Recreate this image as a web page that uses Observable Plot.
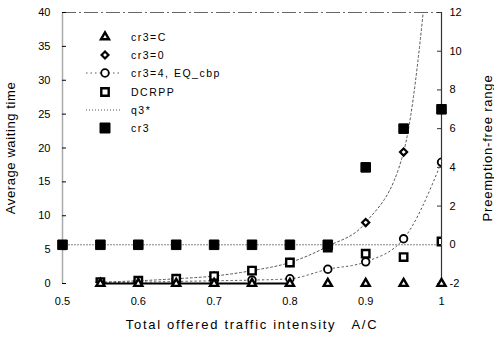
<!DOCTYPE html>
<html><head><meta charset="utf-8">
<script src="https://cdn.jsdelivr.net/npm/d3@7"></script>
<script src="https://cdn.jsdelivr.net/npm/@observablehq/plot@0.6"></script>
<style>
body{margin:0;background:#fff;}
#wrap{position:relative;width:494px;height:339px;font-family:"Liberation Sans",Arial,sans-serif;}
#legend{position:absolute;left:0;top:0;pointer-events:none;}
</style></head><body><div id="wrap"></div>
<script>
// ---- data ----
const intensity = [0.5, 0.55, 0.6, 0.65, 0.7, 0.75, 0.8, 0.85, 0.9, 0.95, 1.0];
// left axis: Average waiting time
const cr3C    = [null, 0, 0, 0, 0, 0, 0, 0, 0, 0, 0];
const cr3Zero = [null, 0.2, 0.4, 0.7, 1.1, 1.9, 3.1, 5.5, 9.0, 19.4, 70];
const eqCbp   = [null, 0.1, 0.2, 0.3, 0.4, 0.5, 0.7, 2.1, 3.2, 6.6, 17.9];
const dcrpp   = [null, 0.2, 0.4, 0.7, 1.1, 1.9, 3.1, 5.3, 4.4, 3.9, 6.2];
// right axis: Preemption-free range
const cr3     = [0, 0, 0, 0, 0, 0, 0, 0, 4, 6, 7];
const q3Star  = [0, 0, 0, 0, 0, 0, 0, 0, 0, 0, 0];

const xTicks = [0.5, 0.6, 0.7, 0.8, 0.9, 1];
const leftTicks = [0, 5, 10, 15, 20, 25, 30, 35, 40];
const rightTicks = [-2, 0, 2, 4, 6, 8, 10, 12];
const legendNames = ["cr3=C", "cr3=0", "cr3=4, EQ_cbp", "DCRPP", "q3*", "cr3"];
const yTitleLeft = "Average waiting time";
const yTitleRight = "Preemption-free range";
const xTitle = "Total offered traffic intensity   A/C";

const leftDomain = [0, 40];
const rightDomain = [-2, 12];
const toLeft = r => (r - rightDomain[0]) / (rightDomain[1] - rightDomain[0]) * (leftDomain[1] - leftDomain[0]) + leftDomain[0];
const toRight = l => (l - leftDomain[0]) / (leftDomain[1] - leftDomain[0]) * (rightDomain[1] - rightDomain[0]) + rightDomain[0];

const rows = intensity.map((x, i) => ({
  x, cr3C: cr3C[i], cr3Zero: cr3Zero[i], eqCbp: eqCbp[i], dcrpp: dcrpp[i],
  cr3: toLeft(cr3[i]), q3: toLeft(q3Star[i])
}));
const def = k => rows.filter(d => d[k] != null);
const titleStyle = {fontSize: 13, textAnchor: "middle"};

const chart = Plot.plot({
  width: 494, height: 339,
  marginLeft: 62, marginRight: 53, marginTop: 12, marginBottom: 56,
  style: {fontFamily: '"Liberation Sans", Arial, sans-serif', fontSize: "11px", color: "#000", background: "#fff"},
  x: {domain: [0.5, 1]},
  y: {domain: leftDomain},
  marks: [
    Plot.ruleY([leftDomain[1]], {stroke: "#666", strokeDasharray: "14,3,2,3"}),
    Plot.ruleX([xTicks[0]], {stroke: "#aaa", strokeWidth: 1.5}),
    Plot.ruleX([xTicks[xTicks.length - 1]], {stroke: "#333", strokeWidth: 1.2}),
    Plot.axisX({ticks: xTicks, tickSize: 0, tickPadding: 14, tickFormat: d => String(d), label: null}),
    // labels
    Plot.axisY({anchor: "left", ticks: leftTicks, tickSize: 0, tickPadding: 12, label: null}),
    Plot.axisY({anchor: "right", ticks: rightTicks.map(toLeft), tickSize: 0, tickPadding: 8,
      tickFormat: d => String(Math.round(toRight(d))), label: null}),
    // inward ticks
    Plot.axisY({anchor: "left", ticks: leftTicks, tickSize: 4, dx: 4, tickFormat: () => "", label: null}),
    Plot.axisY({anchor: "right", ticks: rightTicks.map(toLeft), tickSize: 5, dx: -5, tickFormat: () => "", label: null, stroke: "#333"}),
    Plot.text([yTitleLeft], {frameAnchor: "left", rotate: -90, dx: -52, ...titleStyle}),
    Plot.text([yTitleRight], {frameAnchor: "right", rotate: -90, dx: 46, ...titleStyle}),
    Plot.text([xTitle], {frameAnchor: "bottom", dy: 45, ...titleStyle}),
    // lines
    Plot.line(rows, {x: "x", y: "q3", stroke: "#777", strokeWidth: 1, strokeDasharray: "1,2"}),
    Plot.line(def("cr3Zero"), {x: "x", y: "cr3Zero", stroke: "#555", strokeWidth: 1, strokeDasharray: "2,2.5", curve: "monotone-x", clip: true}),
    Plot.line(def("eqCbp"), {x: "x", y: "eqCbp", stroke: "#555", strokeWidth: 1, strokeDasharray: "1.5,3", curve: "monotone-x", clip: true}),
    Plot.line(def("cr3C").filter(d => d.x <= 0.8), {x: "x", y: "cr3C", stroke: "#000", strokeWidth: 1.8}),
    // markers
    Plot.dot(def("cr3Zero"), {x: "x", y: "cr3Zero", symbol: "diamond2", r: 3.2, stroke: "#000", strokeWidth: 2.2, fill: "#fff", clip: true}),
    Plot.dot(def("eqCbp"), {x: "x", y: "eqCbp", symbol: "circle", r: 3.8, stroke: "#000", strokeWidth: 1.8, fill: "#fff", clip: true}),
    Plot.dot(def("dcrpp"), {x: "x", y: "dcrpp", symbol: "square", r: 4.2, stroke: "#000", strokeWidth: 2.4, fill: "#fff", clip: true}),
    Plot.dot(def("cr3C"), {x: "x", y: "cr3C", symbol: "triangle", r: 3, stroke: "#000", strokeWidth: 2.4, fill: "#fff"}),
    Plot.dot(rows, {x: "x", y: "cr3", symbol: "square", r: 5.4, fill: "#000", stroke: "#000", strokeWidth: 1})
  ]
});
document.getElementById("wrap").appendChild(chart);

// widen title letter spacing to match the scanned original
const spacing = {[xTitle]: "1.7px", [yTitleLeft]: "0.6px", [yTitleRight]: "0.8px"};
d3.select(chart).selectAll("text").each(function() {
  const t = this.textContent;
  if (spacing[t]) this.setAttribute("letter-spacing", spacing[t]);
});

// ---- legend overlay ----
const lg = d3.select("#wrap").append("svg").attr("id", "legend").attr("width", 494).attr("height", 339);
const rowY = [37, 55, 73, 92, 110, 128];
const mx = 105, tx = 131;
const symbols = [
  {sym: d3.symbolTriangle, size: 28, fill: "#fff", sw: 2.4},
  {sym: d3.symbolDiamond2, size: 30, fill: "#fff", sw: 2.2},
  {sym: d3.symbolCircle, size: 45, fill: "#fff", sw: 1.8, line: "1.5,3"},
  {sym: d3.symbolSquare, size: 55, fill: "#fff", sw: 2.4},
  {sym: null, line: "1,2"},
  {sym: d3.symbolSquare, size: 100, fill: "#000", sw: 1}
];
legendNames.forEach((name, i) => {
  const y = rowY[i], s = symbols[i];
  if (s.line) lg.append("line").attr("x1", mx - 19).attr("x2", mx + 17).attr("y1", y).attr("y2", y)
    .attr("stroke", "#555").attr("stroke-dasharray", s.line);
  if (s.sym) lg.append("path").attr("d", d3.symbol(s.sym, s.size)()).attr("transform", `translate(${mx},${y})`)
    .attr("fill", s.fill).attr("stroke", "#000").attr("stroke-width", s.sw);
  lg.append("text").attr("x", tx).attr("y", y).attr("dy", "0.35em").attr("font-size", 10.5)
    .attr("letter-spacing", "1.5px").attr("font-family", '"Liberation Sans", Arial, sans-serif').text(name);
});
</script>
</body></html>
